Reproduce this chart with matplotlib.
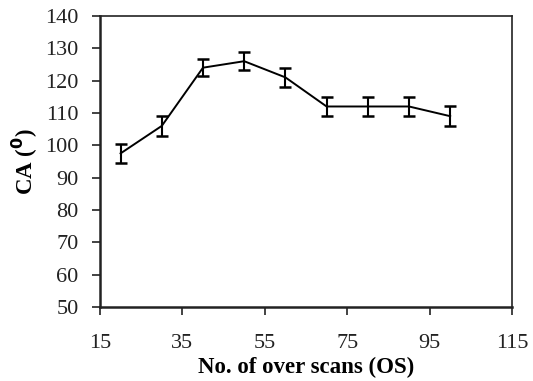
import matplotlib.pyplot as plt
import numpy as np

# number of over scans vs contact angle
scans = [20, 30, 40, 50, 60, 70, 80, 90, 100]
angle = [97.5, 106, 124, 126, 121, 112, 112, 112, 109]
err = [3, 3, 2.7, 2.7, 3, 2.8, 2.8, 2.8, 3]

x_ticks = np.arange(15, 116, 20)
y_ticks = np.arange(50, 141, 10)

plt.rcParams['font.family'] = ['Liberation Serif', 'DejaVu Serif']

fig = plt.figure(figsize=(5.33, 3.81), dpi=100)
ax = fig.add_axes([0.1876, 0.1942, 0.773, 0.764])

ax.errorbar(scans, angle, yerr=err, color='black', linewidth=1.4,
            elinewidth=1.5, capsize=4.5, capthick=1.8)

ax.set_xlim(15, 115)
ax.set_ylim(50, 140)
ax.set_xticks(x_ticks)
ax.set_yticks(y_ticks)
ax.tick_params(direction='out', length=5.5, width=1.2, labelsize=16, colors='#222222')
ax.tick_params(axis='y', pad=10)
ax.tick_params(axis='x', pad=14)
for s in ax.spines.values():
    s.set_linewidth(1.8)
    s.set_color('#222222')
ax.spines['top'].set_linewidth(1.2)
ax.spines['right'].set_linewidth(1.2)

ax.set_xlabel('No. of over scans (OS)', fontsize=16.5, fontweight='bold', labelpad=3)
ax.set_ylabel('CA ($^{\\mathbf{0}}$)', fontsize=16.5, fontweight='bold', labelpad=4)

fig.savefig('out.png', dpi=100)
